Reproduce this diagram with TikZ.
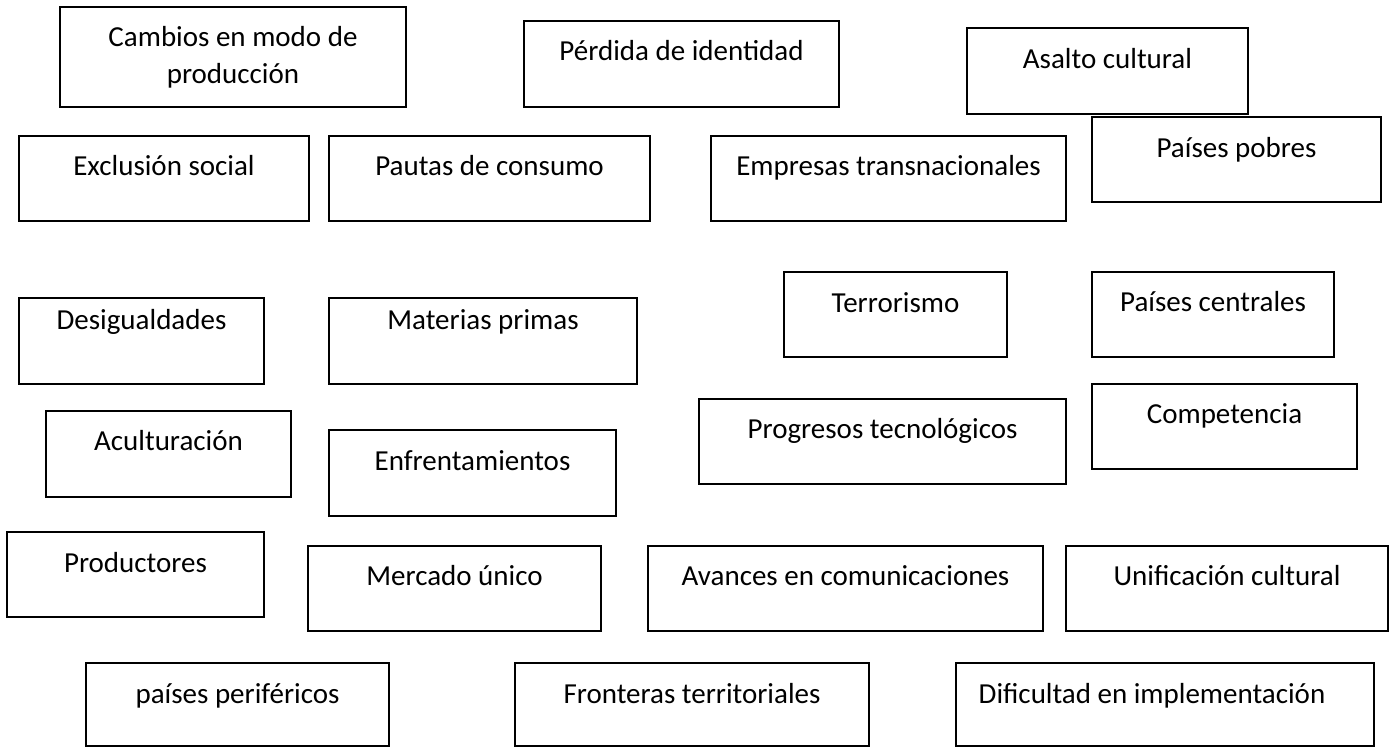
\documentclass[tikz,border=0pt]{standalone}
\usepackage{fontspec}
\setmainfont{Carlito}
\begin{document}
\begin{tikzpicture}[x=1pt, y=-1pt,
  box/.style={draw=black, line width=1.8pt, inner sep=0pt, outer sep=0pt,
    font=\fontsize{29}{37}\selectfont, align=center}]
\useasboundingbox (0,0) rectangle (1392,747);
% row 1
\node[box, minimum width=346pt, minimum height=100pt] (cambios) at (233,57) {Cambios en modo de\\producción};
\node[box, minimum width=315pt, minimum height=86pt, text height=39pt, text depth=47pt] (perdida) at (681.5,64) {Pérdida de identidad};
\node[box, minimum width=281pt, minimum height=86pt, text height=40pt, text depth=46pt] (asalto) at (1107.5,71) {Asalto cultural};
% row 2
\node[box, minimum width=290pt, minimum height=85pt, text height=39pt, text depth=46pt] (exclusion) at (164,178.5) {Exclusión social};
\node[box, minimum width=321pt, minimum height=85pt, text height=39pt, text depth=46pt] (pautas) at (489.5,178.5) {Pautas de consumo};
\node[box, minimum width=355pt, minimum height=85pt, text height=39pt, text depth=46pt] (empresas) at (888.5,178.5) {Empresas transnacionales};
\node[box, minimum width=289pt, minimum height=85pt, text height=40pt, text depth=45pt] (pobres) at (1236.5,159.5) {Países pobres};
% row 3
\node[box, minimum width=245pt, minimum height=86pt, text height=31pt, text depth=55pt] (desigualdades) at (141.5,341) {Desigualdades};
\node[box, minimum width=308pt, minimum height=86pt, text height=31pt, text depth=55pt] (materias) at (483,341) {Materias primas};
\node[box, minimum width=223pt, minimum height=85pt, text height=40pt, text depth=45pt] (terrorismo) at (895.5,314.5) {Terrorismo};
\node[box, minimum width=242pt, minimum height=85pt, text height=39pt, text depth=46pt] (centrales) at (1213,314.5) {Países centrales};
% row 4
\node[box, minimum width=245pt, minimum height=86pt, text height=39pt, text depth=47pt] (aculturacion) at (168.5,454) {Aculturación};
\node[box, minimum width=287pt, minimum height=86pt, text height=40pt, text depth=46pt] (enfrentamientos) at (472.5,473) {Enfrentamientos};
\node[box, minimum width=367pt, minimum height=85pt, text height=39pt, text depth=46pt] (progresos) at (882.5,441.5) {Progresos tecnológicos};
\node[box, minimum width=265pt, minimum height=85pt, text height=39pt, text depth=46pt] (competencia) at (1224.5,426.5) {Competencia};
% row 5
\node[box, minimum width=257pt, minimum height=85pt, text height=40pt, text depth=45pt] (productores) at (135.5,574.5) {Productores};
\node[box, minimum width=293pt, minimum height=85pt, text height=39pt, text depth=46pt] (mercado) at (454.5,588.5) {Mercado único};
\node[box, minimum width=395pt, minimum height=85pt, text height=39pt, text depth=46pt] (avances) at (845.5,588.5) {Avances en comunicaciones};
\node[box, minimum width=322pt, minimum height=85pt, text height=39pt, text depth=46pt] (unificacion) at (1227,588.5) {Unificación cultural};
% row 6
\node[box, minimum width=303pt, minimum height=83pt, text height=40pt, text depth=43pt] (perifericos) at (237.5,704.5) {países periféricos};
\node[box, minimum width=354pt, minimum height=83pt, text height=40pt, text depth=43pt] (fronteras) at (692,704.5) {Fronteras territoriales};
\node[box, minimum width=418pt, minimum height=83pt, text height=40pt, text depth=43pt] (dificultad) at (1165,704.5) {Dificultad en implementación\hspace*{26pt}};
\end{tikzpicture}
\end{document}
